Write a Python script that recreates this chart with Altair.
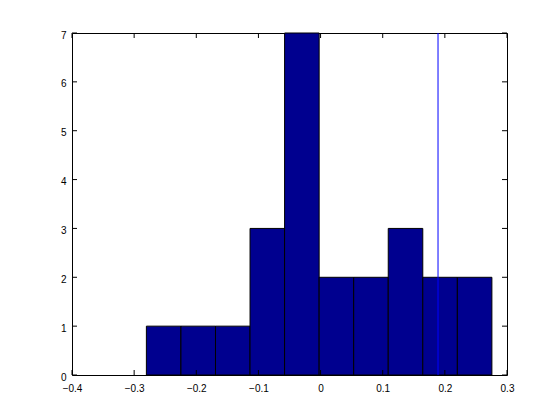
import altair as alt
import pandas as pd

# Histogram data
bin_start = -0.2803
bin_width = 0.0556
counts = [1, 1, 1, 3, 7, 2, 2, 3, 2, 2]
marker_x = [0.189]

x_ticks = [-0.4, -0.3, -0.2, -0.1, 0.0, 0.1, 0.2, 0.3]
y_ticks = [0, 1, 2, 3, 4, 5, 6, 7]

W, H = 435, 342

bars = pd.DataFrame({
    "x0": [bin_start + i * bin_width for i in range(len(counts))],
    "x1": [bin_start + (i + 1) * bin_width for i in range(len(counts))],
    "count": counts,
})

xs = alt.Scale(domain=[-0.4, 0.3], nice=False, zero=False)
ys = alt.Scale(domain=[0, 7], nice=False)

font = "Liberation Sans"

x_axis = alt.Axis(values=x_ticks, ticks=False, domain=True, domainColor="black",
                  domainWidth=1, grid=False, labelFlush=False,
                  labelFont=font, labelFontSize=10, labelColor="black",
                  labelPadding=8, title=None, format="~g")
y_axis = alt.Axis(values=y_ticks, ticks=False, domain=True, domainColor="black",
                  domainWidth=1, grid=False, labelFlush=False,
                  labelFont=font, labelFontSize=10, labelColor="black",
                  labelPadding=6, labelOffset=2, title=None, format="d")
x_top = alt.Axis(orient="top", labels=False, ticks=False, domain=True,
                 domainColor="black", domainWidth=1, grid=False, title=None)
y_right = alt.Axis(orient="right", labels=False, ticks=False, domain=True,
                   domainColor="black", domainWidth=1, grid=False, title=None)

hist = alt.Chart(bars).mark_rect(color="#00008F", stroke="black", strokeWidth=1).encode(
    x=alt.X("x0:Q", scale=xs, axis=x_axis),
    x2="x1:Q",
    y=alt.Y("count:Q", scale=ys, axis=y_axis),
    y2=alt.datum(0),
)

vline = alt.Chart(pd.DataFrame({"x": marker_x})).mark_rule(color="#0000FF", strokeWidth=1).encode(
    x=alt.X("x:Q", scale=xs, axis=x_top),
    y=alt.value(0),
    y2=alt.value(H),
)

xt = pd.DataFrame({"v": x_ticks})
yt = pd.DataFrame({"v": y_ticks})
tick_len = 5

bottom_ticks = alt.Chart(xt).mark_rule(color="black", strokeWidth=1).encode(
    x=alt.X("v:Q", scale=xs, axis=None), y=alt.value(H), y2=alt.value(H - tick_len))
top_ticks = alt.Chart(xt).mark_rule(color="black", strokeWidth=1).encode(
    x=alt.X("v:Q", scale=xs, axis=None), y=alt.value(0), y2=alt.value(tick_len))
left_ticks = alt.Chart(yt).mark_rule(color="black", strokeWidth=1).encode(
    y=alt.Y("v:Q", scale=ys, axis=None), x=alt.value(0), x2=alt.value(tick_len))
right_ticks = alt.Chart(yt).mark_rule(color="black", strokeWidth=1).encode(
    y=alt.Y("v:Q", scale=ys, axis=y_right), x=alt.value(W), x2=alt.value(W - tick_len))

chart = alt.layer(hist, vline, bottom_ticks, top_ticks, left_ticks, right_ticks).resolve_axis(
    x="independent", y="independent"
).properties(
    width=W, height=H,
    autosize=alt.AutoSizeParams(type="none"),
    padding={"left": 64, "top": 25, "right": 45, "bottom": 40},
).configure_view(stroke=None).configure(background="white")

chart.save("out.html", embed_options={"renderer": "svg", "actions": False})
